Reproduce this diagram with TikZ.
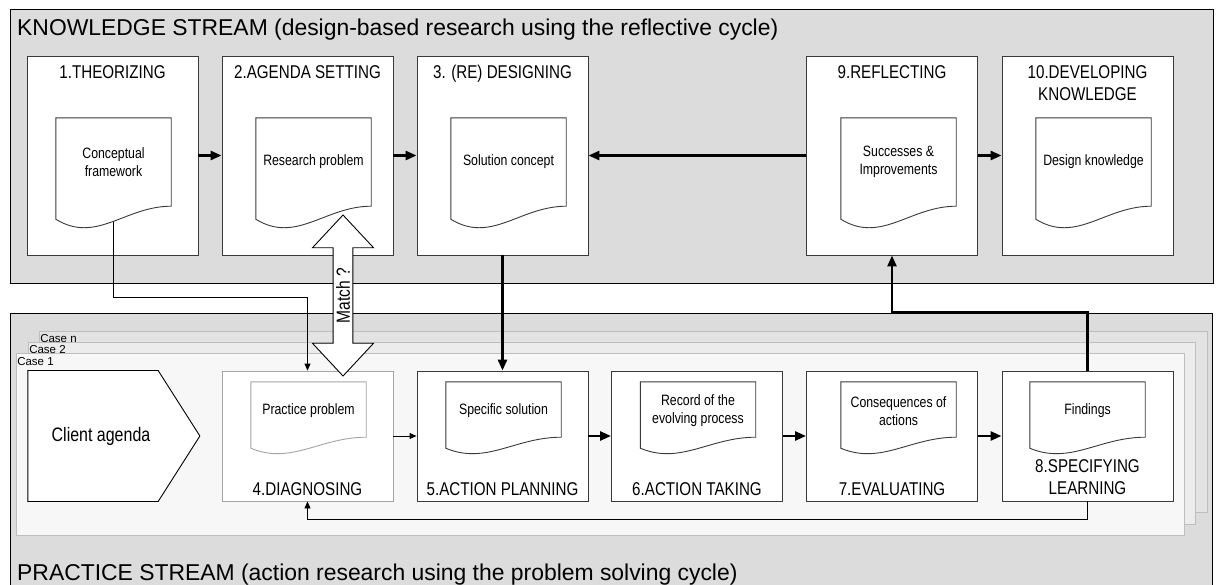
\documentclass[tikz,border=0pt]{standalone}
\usepackage{fontspec}
\setmainfont{Liberation Sans}
\newfontfamily\narrowfont[FakeStretch=0.82]{Liberation Sans}
\usetikzlibrary{shapes.arrows,shapes.symbols,arrows.meta,calc}
\definecolor{streamgray}{HTML}{DCDCDC}
\definecolor{casengray}{HTML}{E3E3E3}
\definecolor{casetwogray}{HTML}{ECECEC}
\definecolor{caseonegray}{HTML}{F7F7F7}
\definecolor{caseline}{HTML}{BEBEBE}
\definecolor{boxline}{HTML}{3A3A3A}
\definecolor{lightline}{HTML}{A4A4A4}
\tikzset{
  stream/.style={draw=black, line width=0.8pt, fill=streamgray, inner sep=0pt},
  casebox/.style={draw=caseline, line width=0.9pt, inner sep=0pt},
  caselabel/.style={font=\fontsize{11.5}{13}\selectfont, anchor=base west, inner sep=0pt},
  streamtitle/.style={font=\fontsize{22.9}{27}\selectfont, anchor=base west, inner sep=0pt},
  stepbox/.style={draw=boxline, fill=white, line width=0.9pt, minimum width=171pt, inner sep=0pt},
  topbox/.style={stepbox, minimum height=199pt},
  botbox/.style={stepbox, minimum height=130pt},
  docbox/.style={minimum width=115pt, inner sep=0pt},
  topdoc/.style={docbox, minimum height=88pt},
  botdoc/.style={docbox, minimum height=55pt},
  doctext/.style={font=\narrowfont\fontsize{15}{18}\selectfont, align=center, inner sep=0pt},
  steplabel/.style={font=\narrowfont\fontsize{18.5}{22.5}\selectfont, align=center, inner sep=0pt, anchor=base},
  thickarrow/.style={line width=2.6pt, -{Triangle[length=11pt,width=9pt]}},
  thinarrow/.style={line width=0.9pt, -{Triangle[length=7pt,width=6pt]}},
}
\newcommand\docoutline[4]{%
  \draw[draw=#4, fill=white, line width=0.9pt] (#1.north west) -- (#1.north east) -- (#1.south east)
    .. controls ($(#1.south west)!0.6!(#1.south east)$) and ($(#1.south west)!0.35!(#1.south east)+(0,#3)$)
    .. ($(#1.south west)+(0,#2)$) -- cycle;}
\begin{document}
\begin{tikzpicture}[x=1pt,y=-1pt]
\useasboundingbox (0,0) rectangle (1218,584);
% streams
\node[stream, minimum width=1203pt, minimum height=274pt] (ks) at (611.5,146) {};
\node[stream, minimum width=1202pt, minimum height=280pt] (ps) at (611,453) {};
\node[streamtitle] (kst) at (17,35) {KNOWLEDGE STREAM (design-based research using the reflective cycle)};
\node[streamtitle] (pst) at (17,580) {PRACTICE STREAM (action research using the problem solving cycle)};
% cases
\node[casebox, fill=casengray, minimum width=1168pt, minimum height=181pt] (cn) at (623,421.5) {};
\node[casebox, fill=casetwogray, minimum width=1167pt, minimum height=182pt] (c2) at (611.5,433) {};
\node[casebox, fill=caseonegray, minimum width=1168pt, minimum height=182pt] (c1) at (600,444) {};
\node[caselabel] (cnl) at ($(cn.north west)+(1.5,11.5)$) {Case n};
\node[caselabel] (c2l) at ($(c2.north west)+(1.5,12)$) {Case 2};
\node[caselabel] (c1l) at ($(c1.north west)+(1.5,12.5)$) {Case 1};
% client agenda
\node[signal, signal to=east, signal pointer angle=115, draw=black, fill=white, line width=0.9pt,
      minimum width=172pt, minimum height=131pt, inner sep=0pt,
      font=\narrowfont\fontsize{19.5}{23}\selectfont] (ca) at (93,436) {\hspace*{16pt}Client agenda};
% boxes
\node[topbox] (b1) at (112.5,155.5) {};
\node[topbox] (b2) at (307.5,155.5) {};
\node[topbox] (b3) at (502.5,155.5) {};
\node[topbox] (b9) at (892,155.5) {};
\node[topbox] (b10) at (1087.5,155.5) {};
\node[botbox, draw=lightline] (b4) at (307.5,436) {};
\node[botbox] (b5) at (502.5,436) {};
\node[botbox] (b6) at (697,436) {};
\node[botbox] (b7) at (892,436) {};
\node[botbox] (b8) at (1087.5,436) {};
% document frames
\node[topdoc] (d1) at (113.5,162) {};
\node[topdoc] (d2) at (313.5,162) {};
\node[topdoc] (d3) at (508.5,162) {};
\node[topdoc] (d9) at (898.5,162) {};
\node[topdoc] (d10) at (1093.5,162) {};
\node[botdoc] (d4) at (308.5,409.5) {};
\node[botdoc] (d5) at (503.5,409.5) {};
\node[botdoc] (d6) at (698,409.5) {};
\node[botdoc] (d7) at (898.5,409.5) {};
\node[botdoc] (d8) at (1087.5,409.5) {};
% connector from conceptual framework to diagnosing (under the document)
\draw[thinarrow] (d1.center) |- ([yshift=73pt]b4.north) -- (b4.north);
% document outlines
\docoutline{d1}{13}{38}{boxline}
\docoutline{d2}{13}{38}{boxline}
\docoutline{d3}{13}{38}{boxline}
\docoutline{d9}{13}{38}{boxline}
\docoutline{d10}{13}{38}{boxline}
\docoutline{d4}{11}{28}{lightline}
\docoutline{d5}{11}{28}{boxline}
\docoutline{d6}{11}{28}{boxline}
\docoutline{d7}{11}{28}{boxline}
\docoutline{d8}{11}{28}{boxline}
% document texts
\node[doctext] (t1) at (d1.center) {Conceptual\\framework};
\node[doctext] (t2) at (d2.center) {Research problem};
\node[doctext] (t3) at (d3.center) {Solution concept};
\node[doctext] (t9) at (d9.center) {Successes \&\\Improvements};
\node[doctext] (t10) at (d10.center) {Design knowledge};
\node[doctext] (t4) at ([yshift=-1.5pt]d4.center) {Practice problem};
\node[doctext] (t5) at ([yshift=-1.5pt]d5.center) {Specific solution};
\node[doctext] (t6) at ([yshift=-1.5pt]d6.center) {Record of the\\evolving process};
\node[doctext] (t7) at ([yshift=-1.5pt]d7.center) {Consequences of\\actions};
\node[doctext] (t8) at ([yshift=-1.5pt]d8.center) {Findings};
% step labels (base anchor = baseline of the last line)
\node[steplabel] (l1) at (112.5,78) {1.THEORIZING};
\node[steplabel] (l2) at (307.5,78) {2.AGENDA SETTING};
\node[steplabel] (l3) at (502.5,78) {3. (RE) DESIGNING};
\node[steplabel] (l9) at (892,78) {9.REFLECTING};
\node[steplabel] (l10) at (1087.5,100.5) {10.DEVELOPING\\KNOWLEDGE};
\node[steplabel] (l4) at (307.5,495) {4.DIAGNOSING};
\node[steplabel] (l5) at (502.5,495) {5.ACTION PLANNING};
\node[steplabel] (l6) at (697,495) {6.ACTION TAKING};
\node[steplabel] (l7) at (892,495) {7.EVALUATING};
\node[steplabel] (l8) at (1087.5,494.5) {8.SPECIFYING\\LEARNING};
% arrows
\draw[thickarrow] (b1.east) -- (b2.west);
\draw[thickarrow] (b2.east) -- (b3.west);
\draw[thickarrow] (b9.west) -- (b3.east);
\draw[thickarrow] (b9.east) -- (b10.west);
\draw[thickarrow] (b3.south) -- (b5.north);
\draw[thinarrow] (b4.east) -- (b5.west);
\draw[thickarrow] (b5.east) -- (b6.west);
\draw[thickarrow] (b6.east) -- (b7.west);
\draw[thickarrow] (b7.east) -- (b8.west);
\draw[thickarrow] (b8.north) -- ([yshift=58pt]b8.north) -| (b9.south);
\draw[thinarrow] (b8.south) -- ([yshift=-18pt]b8.south) -| (b4.south);
% match arrow
\node[double arrow, rotate=90, draw=black, fill=white, line width=0.9pt,
      minimum height=161pt, minimum width=61pt, double arrow head extend=15.5pt,
      double arrow head indent=0pt, double arrow tip angle=86, inner sep=0pt,
      font=\narrowfont\fontsize{19}{22}\selectfont] (match) at (343,295.5) {Match ?};
\end{tikzpicture}
\end{document}
